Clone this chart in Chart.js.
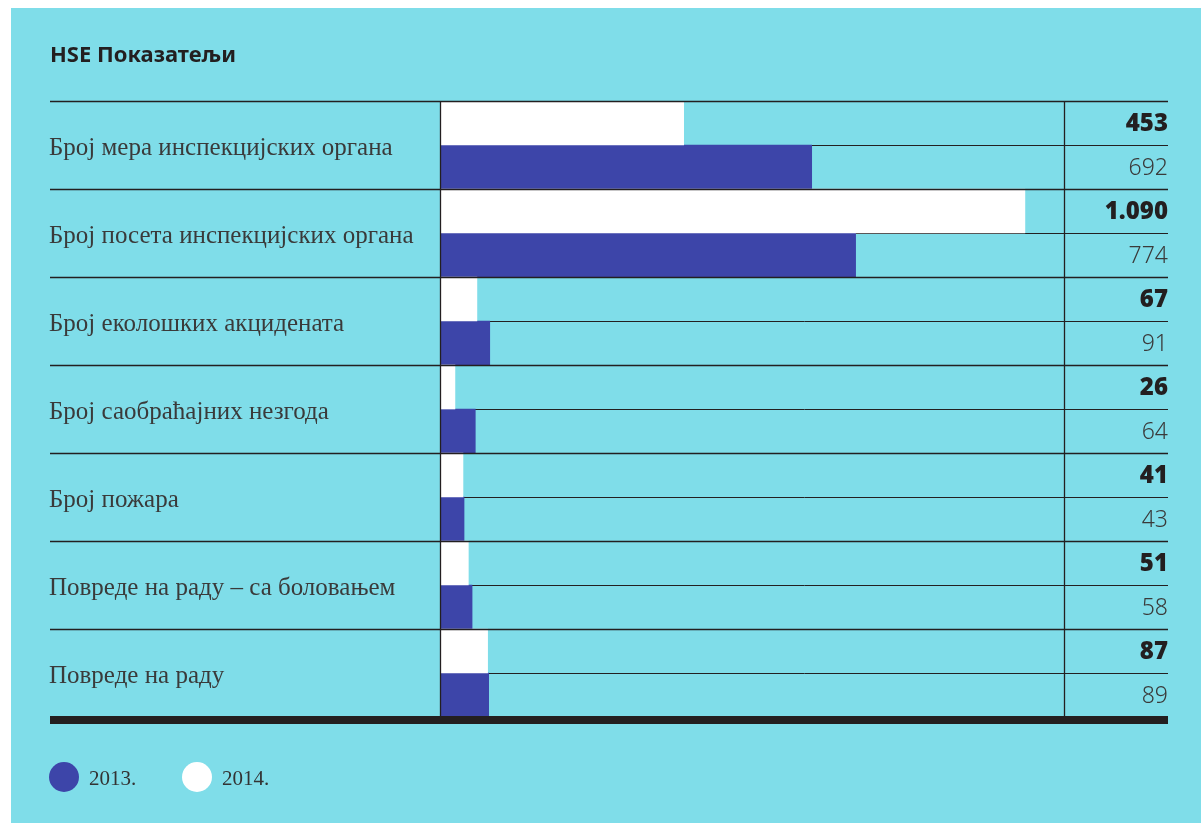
<!DOCTYPE html>
<html>
<head>
<meta charset="utf-8">
<script src="https://cdn.jsdelivr.net/npm/chart.js@4"></script>
<style>
  html, body { margin: 0; padding: 0; background: #ffffff; }
  #wrap { width: 1201px; height: 823px; }
</style>
</head>
<body>
<div id="wrap"><canvas id="hseChart" width="1201" height="823"></canvas></div>
<script>
// HSE показатељи - подаци
const categories = [
    'Број мера инспекцијских органа',
    'Број посета инспекцијских органа',
    'Број еколошких акцидената',
    'Број саобраћајних незгода',
    'Број пожара',
    'Повреде на раду – са боловањем',
    'Повреде на раду'
];
const values2014 = [453, 1090, 67, 26, 41, 51, 87];
const values2013 = [692, 774, 91, 64, 43, 58, 89];
const seriesNames = ['2013.', '2014.'];
const axisMax = 1163;

const CYAN = '#7fdde9';
const BLUE = '#3d45a9';
const INK = '#231f20';

function fmt(v) {
    return String(v).replace(/\B(?=(\d{3})+(?!\d))/g, '.');
}

// позадина, линије, текст
const backdrop = {
    id: 'backdrop',
    beforeDraw(chart) {
        const c = chart.ctx;
        c.save();
        c.fillStyle = '#ffffff';
        c.fillRect(0, 0, chart.width, chart.height);
        c.fillStyle = CYAN;
        c.fillRect(11, 8, chart.width - 11, chart.height - 8);
        c.fillStyle = INK;
        c.font = 'bold 22px "Noto Sans", sans-serif';
        c.textBaseline = 'middle';
        c.fillText('HSE Показатељи', 50, 56);
        c.restore();
    },
    beforeDatasetsDraw(chart) {
        const c = chart.ctx;
        const meta = chart.getDatasetMeta(0);
        c.save();
        c.strokeStyle = INK;
        c.lineWidth = 1;
        meta.data.forEach(bar => {
            const y = Math.round(bar.y + bar.height / 2) + 0.5;
            c.beginPath();
            c.moveTo(chart.chartArea.left, y);
            c.lineTo(1168, y);
            c.stroke();
        });
        c.restore();
    },
    afterDatasetsDraw(chart) {
        const c = chart.ctx;
        const area = chart.chartArea;
        const yScale = chart.scales.y;
        const m14 = chart.getDatasetMeta(0);
        const m13 = chart.getDatasetMeta(1);
        c.save();
        c.strokeStyle = INK;
        c.lineWidth = 1.3;
        // линије редова
        categories.forEach((cat, i) => {
            const top = Math.round(yScale.getPixelForValue(i) - yScale.getPixelForValue(0) + area.top) + 0.5;
            c.beginPath();
            c.moveTo(50, top);
            c.lineTo(1168, top);
            c.stroke();
        });
        // вертикалне линије
        [area.left - 0.5, 1064.5].forEach(x => {
            c.beginPath();
            c.moveTo(x, area.top);
            c.lineTo(x, area.bottom);
            c.stroke();
        });
        c.fillStyle = INK;
        c.fillRect(50, area.bottom - 1, 1118, 8);

        // називи
        c.fillStyle = '#3a3a3a';
        c.font = '25px "Liberation Serif", serif';
        c.textBaseline = 'middle';
        c.textAlign = 'left';
        categories.forEach((cat, i) => {
            c.fillText(cat, 49, yScale.getPixelForValue(i) + 3);
        });

        // вредности
        c.textAlign = 'right';
        values2014.forEach((v, i) => {
            c.fillStyle = INK;
            c.font = '900 24px "Noto Sans", sans-serif';
            c.fillText(fmt(v), 1168, m14.data[i].y + 1);
            c.fillStyle = '#3a3a3a';
            c.font = '300 23px "Noto Sans", sans-serif';
            c.fillText(fmt(values2013[i]), 1168, m13.data[i].y + 1);
        });

        // легенда
        c.textAlign = 'left';
        c.font = '21px "Liberation Serif", serif';
        [[64, BLUE, seriesNames[0]], [197, '#ffffff', seriesNames[1]]].forEach(([x, col, txt]) => {
            c.fillStyle = col;
            c.beginPath();
            c.arc(x, 777, 15, 0, Math.PI * 2);
            c.fill();
            c.fillStyle = '#333333';
            c.fillText(txt, x + 25, 779);
        });
        c.restore();
    }
};

new Chart(document.getElementById('hseChart'), {
    type: 'bar',
    data: {
        labels: categories,
        datasets: [{
            label: seriesNames[1],
            data: values2014,
            backgroundColor: '#ffffff',
            categoryPercentage: 1,
            barPercentage: 1
        }, {
            label: seriesNames[0],
            data: values2013,
            backgroundColor: BLUE,
            categoryPercentage: 1,
            barPercentage: 1
        }]
    },
    options: {
        indexAxis: 'y',
        responsive: false,
        animation: false,
        layout: {
            padding: { left: 441, right: 137, top: 101, bottom: 106 }
        },
        plugins: {
            legend: { display: false },
            tooltip: { enabled: false }
        },
        scales: {
            x: { display: false, min: 0, max: axisMax },
            y: { display: false }
        }
    },
    plugins: [backdrop]
});
</script>
</body>
</html>
